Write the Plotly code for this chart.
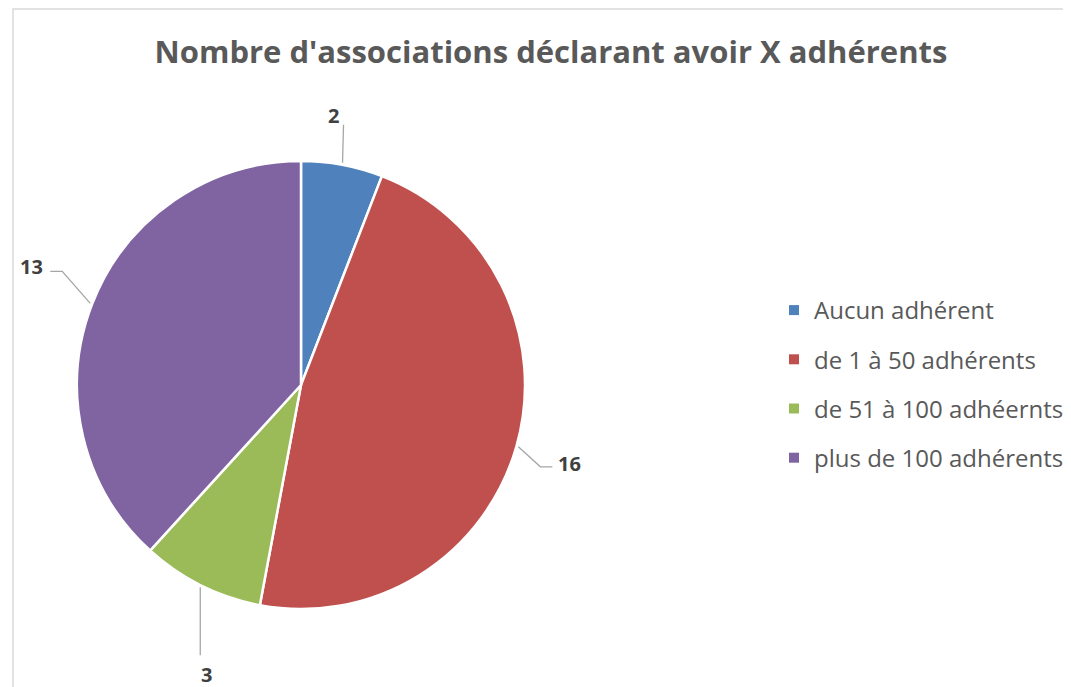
import math
import plotly.graph_objects as go

labels = ["Aucun adhérent", "de 1 à 50 adhérents", "de 51 à 100 adhéernts", "plus de 100 adhérents"]
values = [2, 16, 3, 13]
colors = ["#4F81BD", "#C0504D", "#9BBB59", "#8064A2"]
title = "Nombre d'associations déclarant avoir X adhérents"

W, H = 1071, 687
# the page body adds an 8px margin, so figure coords are screen coords minus 8
cx, cy, r = 293, 377, 224

# leader line styling per slice (pixel offsets from slice edge): elbow, end, label offset from end
leaders = [
    [(0, 0), (1, -38), (-10, -9)],
    [(22, 20), (34, 20), (17, -3)],
    [(0, 0), (0, 68), (6, 19)],
    [(-28, -32), (-40, -32), (-19, -5)],
]


def to_paper(x, y):
    return x / W, 1 - y / H


fig = go.Figure()
fig.add_trace(go.Pie(
    labels=labels, values=values, sort=False, direction="clockwise", rotation=0,
    marker=dict(colors=colors, line=dict(color="white", width=2.5)),
    textinfo="none", hoverinfo="label+value", showlegend=False,
    domain=dict(x=[(cx - r) / W, (cx + r) / W], y=[1 - (cy + r) / H, 1 - (cy - r) / H]),
))

# legend entries (separate so items can be spaced like the original)
for lab, col in zip(labels, colors):
    fig.add_trace(go.Scatter(
        x=[None], y=[None], mode="markers", name=lab, legendgroup=lab,
        marker=dict(symbol="square", size=10, color=col),
    ))

total = sum(values)
cum = 0
for v, (elb, end, lab) in zip(values, leaders):
    mid = (cum + v / 2) / total * 2 * math.pi
    cum += v
    ex = cx + (r + 2) * math.sin(mid)
    ey = cy - (r + 2) * math.cos(mid)
    pts = [(ex, ey), (ex + elb[0], ey + elb[1]), (ex + end[0], ey + end[1])]
    path = "M " + " L ".join("%f,%f" % to_paper(*p) for p in pts)
    fig.add_shape(type="path", path=path, xref="paper", yref="paper",
                  line=dict(color="#A6A6A6", width=1.3))
    lx, ly = to_paper(ex + end[0] + lab[0], ey + end[1] + lab[1])
    fig.add_annotation(x=lx, y=ly, xref="paper", yref="paper", text="<b>%d</b>" % v,
                       showarrow=False, xanchor="center", yanchor="middle",
                       font=dict(family="Open Sans", size=20, color="#404040"))

# chart border
fig.add_shape(type="rect", xref="paper", yref="paper", x0=5 / W, y0=-0.05, x1=1.05, y1=1 - 1 / H,
              line=dict(color="#D9D9D9", width=1.5))

fig.update_layout(
    width=W, height=H,
    margin=dict(l=0, r=0, t=0, b=0),
    paper_bgcolor="white", plot_bgcolor="white",
    title=dict(text="<b>" + title + "</b>", x=543 / W, xanchor="center", y=1 - 44 / H, yanchor="middle",
               font=dict(family="Open Sans", size=31, color="#595959")),
    xaxis=dict(visible=False), yaxis=dict(visible=False),
    legend=dict(x=766 / W, xanchor="left", y=1 - 376 / H, yanchor="middle",
                tracegroupgap=15, font=dict(family="Open Sans", size=24, color="#595959")),
)

fig.write_html("out.html")
